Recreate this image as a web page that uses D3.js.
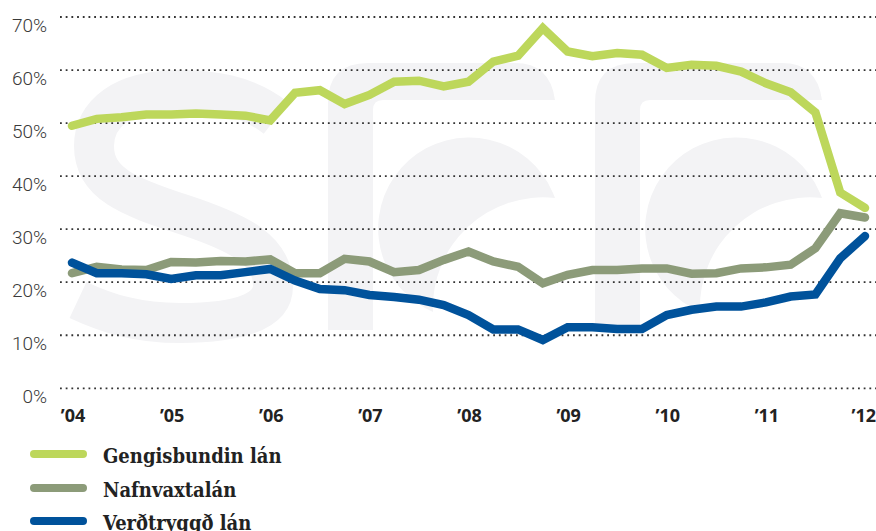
<!DOCTYPE html>
<html>
<head>
<meta charset="utf-8">
<script src="https://cdn.jsdelivr.net/npm/d3@7/dist/d3.min.js"></script>
<style>
  html, body { margin: 0; padding: 0; background: #fff; }
  svg { display: block; }
</style>
</head>
<body>
<svg id="chart" width="876" height="531"></svg>
<script>
// ---- Data ----
const periods = [
  "2004Q1","2004Q2","2004Q3","2004Q4","2005Q1","2005Q2","2005Q3","2005Q4",
  "2006Q1","2006Q2","2006Q3","2006Q4","2007Q1","2007Q2","2007Q3","2007Q4",
  "2008Q1","2008Q2","2008Q3","2008Q4","2009Q1","2009Q2","2009Q3","2009Q4",
  "2010Q1","2010Q2","2010Q3","2010Q4","2011Q1","2011Q2","2011Q3","2011Q4",
  "2012Q1"
];
const gengisbundin = [49.5,50.8,51.1,51.6,51.6,51.8,51.6,51.4,50.5,55.7,56.2,53.6,55.3,57.8,58.0,56.9,
                      57.8,61.6,62.7,67.9,63.5,62.6,63.2,62.9,60.4,61.0,60.8,59.7,57.5,55.8,52.0,36.9,34.0];
const nafnvaxta = [21.7,22.9,22.4,22.3,23.8,23.7,24.0,23.9,24.3,21.7,21.7,24.4,23.9,21.9,22.3,24.2,
                   25.8,23.9,22.9,19.8,21.4,22.3,22.3,22.6,22.6,21.6,21.7,22.6,22.8,23.3,26.4,33.0,32.2];
const verdtryggd = [23.7,21.7,21.7,21.5,20.6,21.3,21.3,21.9,22.5,20.3,18.7,18.5,17.6,17.2,16.7,15.7,
                    13.8,11.1,11.1,9.1,11.5,11.5,11.2,11.2,13.8,14.8,15.4,15.4,16.2,17.3,17.7,24.5,28.7];
const seriesNames = ["Gengisbundin lán", "Nafnvaxtalán", "Verðtryggð lán"];
const seriesColors = ["#bdd75b", "#8c9b79", "#00529b"];
const yTicks = [0, 10, 20, 30, 40, 50, 60, 70];
const xTicks = [2004, 2005, 2006, 2007, 2008, 2009, 2010, 2011, 2012];
const xTickLabels = ["’04","’05","’06","’07","’08","’09","’10","’11","’12"];

// ---- Setup ----
const svg = d3.select("#chart");
const toX = p => +p.slice(0,4) + (+p.slice(5) - 1) / 4;
const x = d3.scaleLinear().domain([2004, 2012]).range([72, 865]);
const y = d3.scaleLinear().domain([0, 70]).range([388.3, 17]);

// ---- Watermark (decorative logo) ----
const wm = svg.append("g").attr("fill", "#f3f3f5");
wm.append("path")
  .attr("fill", "none").attr("stroke", "#f3f3f5").attr("stroke-width", 40)
  .attr("d", "M276,118 C245,94 210,90 180,90 C122,90 94,114 94,146 " +
             "C94,184 130,197 182,214 C240,233 273,250 273,286 " +
             "C273,308 248,323 180,323 C138,323 108,314 78,300");
[0, 267].forEach(dx => {
  const g = wm.append("g").attr("transform", `translate(${dx},0)`);
  g.append("path").attr("d",
    "M328,330 L328,103 Q328,63 368,63 L515,63 Q550,63 555,100 L383,100 Q373,100 373,110 L373,330 Z");
  g.append("path").attr("d",
    "M553,193 A91 91 0 1 0 425,308 L433,312 A110 110 0 0 1 555,198 Z");
});

// ---- Grid ----
svg.append("g").selectAll("line").data(yTicks).join("line")
  .attr("x1", 60).attr("x2", 876)
  .attr("y1", d => y(d)).attr("y2", d => y(d))
  .attr("stroke", "#333").attr("stroke-width", 1.8)
  .attr("stroke-dasharray", "1.8 3.9");

// y labels
svg.append("g").selectAll("text").data(yTicks).join("text")
  .attr("x", 47).attr("y", d => y(d) + 14.5)
  .attr("text-anchor", "end")
  .attr("font-family", "Roboto").attr("font-weight", 300).attr("font-size", 19)
  .attr("fill", "#3a3a3a")
  .text(d => d + "%");

// x labels
svg.append("g").selectAll("text").data(xTicks).join("text")
  .attr("x", (d, i) => i === xTicks.length - 1 ? 876 : x(d) + 1)
  .attr("y", 421.5)
  .attr("text-anchor", (d, i) => i === xTicks.length - 1 ? "end" : "middle")
  .attr("font-family", "Open Sans").attr("font-weight", 700).attr("font-size", 18)
  .attr("fill", "#222")
  .text((d, i) => xTickLabels[i]);

// ---- Lines ----
const line = d3.line().x((d, i) => x(toX(periods[i]))).y(d => y(d));
const seriesData = [gengisbundin, nafnvaxta, verdtryggd];
[1, 2, 0].forEach(k => {
  svg.append("path").datum(seriesData[k])
    .attr("d", line)
    .attr("fill", "none")
    .attr("stroke", seriesColors[k])
    .attr("stroke-width", 8.5)
    .attr("stroke-linecap", "round")
    .attr("stroke-linejoin", "miter");
});

// ---- Legend ----
const legendY = [454, 488, 521];
const lg = svg.append("g");
seriesNames.forEach((name, i) => {
  lg.append("line")
    .attr("x1", 34).attr("x2", 83)
    .attr("y1", legendY[i]).attr("y2", legendY[i])
    .attr("stroke", seriesColors[i]).attr("stroke-width", 8)
    .attr("stroke-linecap", "round");
  lg.append("text")
    .attr("x", 103).attr("y", legendY[i] + 9)
    .attr("font-family", "DejaVu Serif Condensed, DejaVu Serif")
    .attr("font-weight", 700).attr("font-size", 20)
    .attr("fill", "#222")
    .text(name);
});
</script>
</body>
</html>
